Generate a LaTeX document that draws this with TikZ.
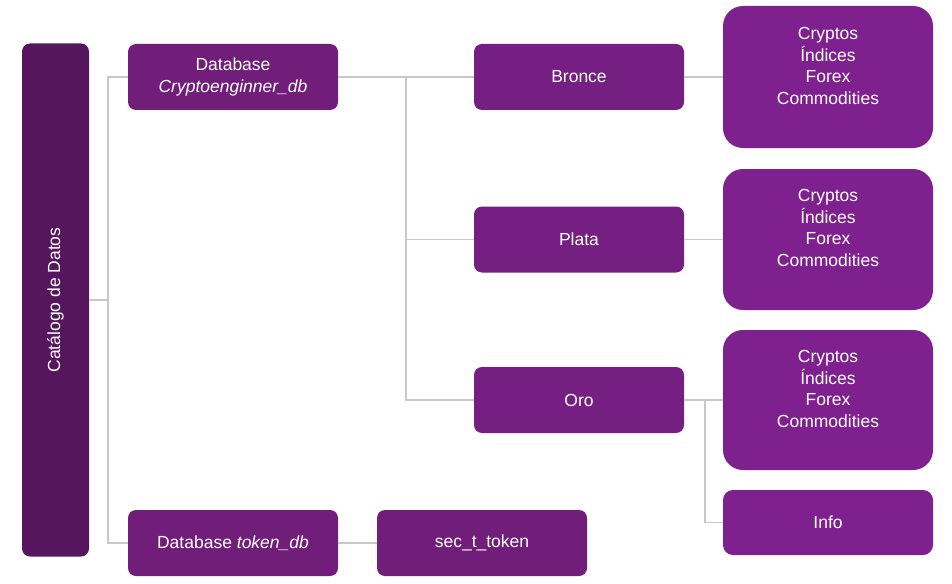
\documentclass[tikz,border=0pt]{standalone}
\usepackage{fontspec}
\usepackage{graphicx}
\setmainfont{Liberation Sans}
\usetikzlibrary{positioning}
\definecolor{catpurple}{RGB}{85,22,94}
\definecolor{dbpurple}{RGB}{112,30,122}
\definecolor{lvlpurple}{RGB}{116,31,129}
\definecolor{listpurple}{RGB}{127,32,143}
\definecolor{conngray}{RGB}{200,200,200}

\begin{document}
\begin{tikzpicture}[
    x=1pt, y=-1pt,
    box/.style={fill=#1, rounded corners=8pt, text=white, inner sep=0pt,
        minimum width=210pt, minimum height=66pt, align=center,
        font=\fontsize{17.5}{22}\selectfont},
    listbox/.style={box=listpurple, rounded corners=20pt},
    listtext/.style={text=white, align=center, inner sep=0pt,
        font=\fontsize{17.5}{21.7}\selectfont},
    conn/.style={draw=conngray, line width=1.2pt}
]
\useasboundingbox (0,0) rectangle (952,583);

\node[box=catpurple, minimum width=67pt, minimum height=513pt] at (55.5,300) (catalogo) {\rotatebox{90}{Catálogo de Datos}};
\node[box=dbpurple] at (233, 77) (cryptodb) {Database\\\textit{Cryptoenginner\_db}};
\node[box=dbpurple] at (233,543) (tokendb) {Database \textit{token\_db}};
\node[box=dbpurple] at (482,543) (sectoken) {sec\_t\_token};
\node[box=lvlpurple] at (579, 77) (bronce) {Bronce};
\node[box=lvlpurple] at (579,239.5) (plata) {Plata};
\node[box=lvlpurple] at (579,400) (oro) {Oro};
\node[listbox, minimum height=142pt] at (828, 77) (lbronce) {};
\node[listbox, minimum height=141pt] at (828,239.5) (lplata) {};
\node[listbox, minimum height=140pt] at (828,400) (loro) {};
\node[box=listpurple, rounded corners=10pt, minimum height=65pt] at (828,522.5) (info) {Info};
\node[listtext] at (828, 66) (tbronce) {Cryptos\\Índices\\Forex\\Commodities};
\node[listtext] at (828,228) (tplata) {Cryptos\\Índices\\Forex\\Commodities};
\node[listtext] at (828,389) (toro) {Cryptos\\Índices\\Forex\\Commodities};

\coordinate (jcat) at (108,300);
\coordinate (jdb) at (406,77);
\coordinate (joro) at (705,400);

\begin{scope}[on background layer/.try]
\draw[conn] (catalogo.east) -- (jcat);
\draw[conn] (cryptodb.west) -| (jcat) |- (tokendb.west);
\draw[conn] (cryptodb.east) -- (bronce.west);
\draw[conn] (jdb) |- (oro.west);
\draw[conn] (jdb |- plata.west) -- (plata.west);
\draw[conn] (bronce.east) -- (lbronce.west);
\draw[conn] (plata.east) -- (lplata.west);
\draw[conn] (oro.east) -- (loro.west);
\draw[conn] (joro) |- (info.west);
\draw[conn] (tokendb.east) -- (sectoken.west);
\end{scope}
\end{tikzpicture}
\end{document}
